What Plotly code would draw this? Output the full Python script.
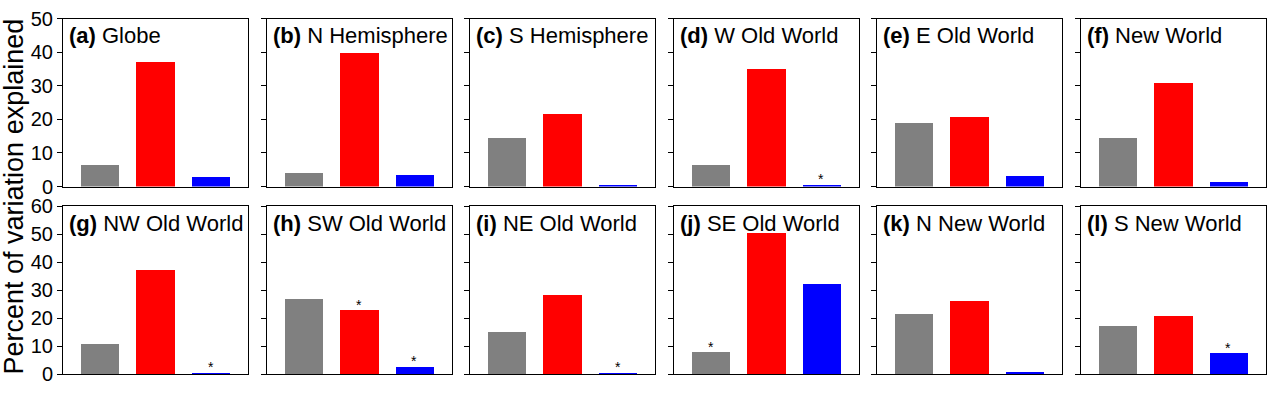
import plotly.graph_objects as go

# ---- data ----
panel_letters = ["a", "b", "c", "d", "e", "f", "g", "h", "i", "j", "k", "l"]
panel_names = ["Globe", "N Hemisphere", "S Hemisphere", "W Old World", "E Old World", "New World",
               "NW Old World", "SW Old World", "NE Old World", "SE Old World", "N New World", "S New World"]
gray_vals = [6.6, 4.1, 14.6, 6.7, 19.1, 14.6, 10.6, 26.9, 14.9, 7.8, 21.6, 17.1]
red_vals = [37.2, 40.0, 21.6, 35.0, 20.9, 30.9, 37.2, 22.7, 28.2, 50.3, 26.0, 20.8]
blue_vals = [2.9, 3.6, 0.5, 0.6, 3.2, 1.4, 0.4, 2.5, 0.4, 32.3, 0.7, 7.4]
# significance asterisks (gray, red, blue)
gray_sig = [0, 0, 0, 0, 0, 0, 0, 0, 0, 1, 0, 0]
red_sig = [0, 0, 0, 0, 0, 0, 0, 1, 0, 0, 0, 0]
blue_sig = [0, 0, 0, 1, 0, 0, 1, 1, 1, 0, 0, 1]
y_max_rows = [50, 60]
y_title = "Percent of variation explained"

colors = ["#808080", "#ff0000", "#0000ff"]
W, H = 1270, 393
FONT = "Arial, Liberation Sans, sans-serif"

fig = go.Figure()
annotations = []
layout = {}

for i in range(12):
    row, col = divmod(i, 6)
    n = i + 1
    xa = "x" if n == 1 else f"x{n}"
    ya = "y" if n == 1 else f"y{n}"
    left = 63 + 203.5 * col
    right = left + 185
    top = 8 + 199 * row
    bottom = top + 178
    vals = [gray_vals[i], red_vals[i], blue_vals[i]]
    sigs = [gray_sig[i], red_sig[i], blue_sig[i]]
    fig.add_trace(go.Bar(x=[0, 1, 2], y=vals, marker=dict(color=colors, line=dict(width=0)),
                         width=0.69, xaxis=xa, yaxis=ya, showlegend=False))
    for k in range(3):
        if sigs[k]:
            annotations.append(dict(x=k, y=vals[k], xref=xa, yref=ya, text="*", showarrow=False,
                                    yanchor="bottom", yshift=-4, font=dict(size=14, color="black", family=FONT)))
    layout["xaxis" if n == 1 else f"xaxis{n}"] = dict(
        domain=[left / W, right / W], range=[-0.667, 2.667], showticklabels=False, ticks="",
        showgrid=False, zeroline=False, showline=True, mirror=True, linecolor="black", linewidth=1,
        anchor=ya, fixedrange=True)
    layout["yaxis" if n == 1 else f"yaxis{n}"] = dict(
        domain=[1 - bottom / H, 1 - top / H], range=[0, y_max_rows[row]], dtick=10,
        showticklabels=(col == 0), ticks="outside", ticklen=5, tickcolor="black",
        showgrid=False, zeroline=False, showline=True, mirror=True, linecolor="black", linewidth=1,
        anchor=xa, tickfont=dict(size=20, color="black", family=FONT))
    annotations.append(dict(x=(left + 4) / W, y=1 - (top + 18) / H, xref="paper", yref="paper",
                            xanchor="left", yanchor="middle", showarrow=False,
                            text=f"<b>({panel_letters[i]})</b> {panel_names[i]}",
                            font=dict(size=22, color="black", family=FONT)))

annotations.append(dict(x=13 / W, y=0.5, xref="paper", yref="paper", text=y_title, textangle=-90,
                        showarrow=False, xanchor="center", yanchor="middle",
                        font=dict(size=27, color="black", family=FONT)))

fig.update_layout(width=W, height=H, margin=dict(l=0, r=0, t=0, b=0), plot_bgcolor="white",
                  paper_bgcolor="white", annotations=annotations, bargap=0, **layout)
fig.write_html("out.html", config={"displayModeBar": False},
               post_script="document.body.style.margin='0';")
